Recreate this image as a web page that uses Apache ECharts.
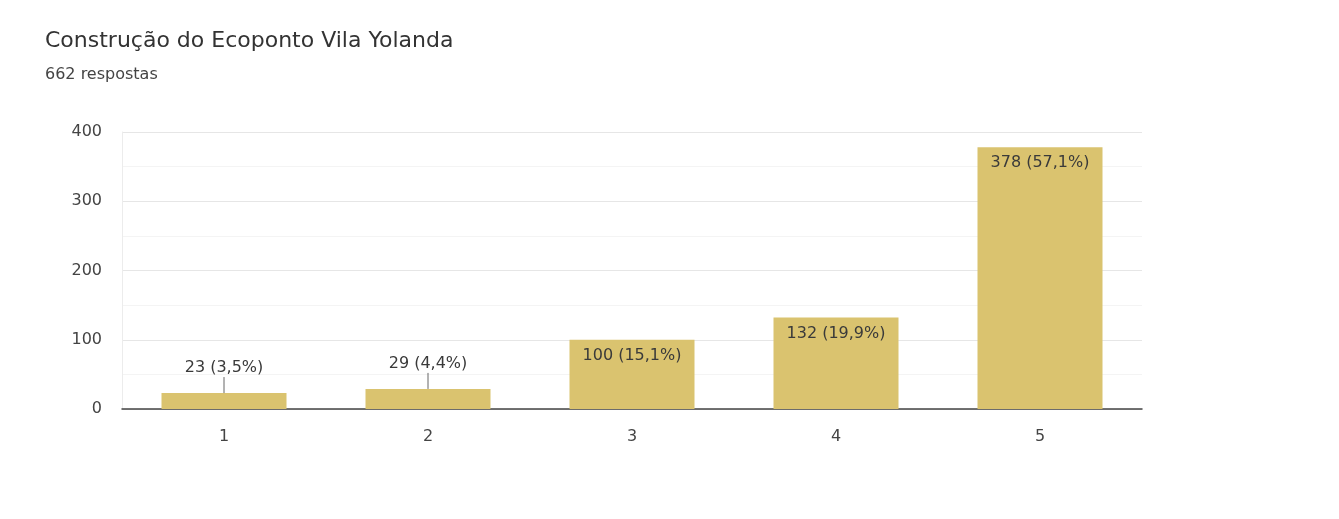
<!DOCTYPE html>
<html><head><meta charset="utf-8">
<script src="https://cdn.jsdelivr.net/npm/echarts@6/dist/echarts.min.js"></script>
<style>html,body{margin:0;padding:0;background:#fff}#c{width:1339px;height:519px}</style>
</head><body><div id="c"></div>
<script>
const title = "Construção do Ecoponto Vila Yolanda";
const subtitle = "662 respostas";
const categories = ["1", "2", "3", "4", "5"];
const counts = [23, 29, 100, 132, 378];
const percents = ["3,5%", "4,4%", "15,1%", "19,9%", "57,1%"];
const yTicks = [0, 100, 200, 300, 400];

const FONT = '"DejaVu Sans", sans-serif';
const smallThreshold = 60;
const chart = echarts.init(document.getElementById('c'));
const barData = counts.map((v, i) => ({
  value: v,
  label: v < smallThreshold
    ? { position: 'top', distance: 17 }
    : { position: 'insideTop', distance: 8 }
}));
chart.setOption({
  animation: false,
  textStyle: { fontFamily: FONT },
  title: [
    { text: title, left: 40, top: 25, textStyle: { fontSize: 22, fontWeight: 'normal', color: '#333', fontFamily: FONT } },
    { text: subtitle, left: 40, top: 62, textStyle: { fontSize: 16, fontWeight: 'normal', color: '#444', fontFamily: FONT } }
  ],
  grid: { left: 122, right: 197, top: 132, bottom: 110 },
  xAxis: {
    type: 'category', data: categories,
    axisLine: { lineStyle: { color: '#444', width: 1.5 } },
    axisTick: { show: false },
    axisLabel: { color: '#444', fontSize: 16, margin: 20, fontFamily: FONT }
  },
  yAxis: {
    type: 'value', min: yTicks[0], max: yTicks[yTicks.length - 1], interval: 100,
    axisLine: { show: true, lineStyle: { color: '#ececec' } },
    axisTick: { show: false },
    axisLabel: { color: '#444', fontSize: 16, margin: 20, fontFamily: FONT },
    splitLine: { lineStyle: { color: '#e6e6e6' } },
    minorTick: { show: false, splitNumber: 2 },
    minorSplitLine: { show: true, lineStyle: { color: '#f4f4f4' } }
  },
  series: [
    {
      type: 'bar', data: barData, barWidth: 125,
      itemStyle: { color: '#dac36f' },
      label: {
        show: true, color: '#3a3a3a', fontSize: 16, fontFamily: FONT,
        formatter: p => counts[p.dataIndex] + ' (' + percents[p.dataIndex] + ')'
      }
    },
    {
      type: 'custom', silent: true, z: 5,
      data: counts.map((v, i) => [i, v]).filter(d => d[1] < smallThreshold),
      renderItem: (params, api) => {
        const p = api.coord([api.value(0), api.value(1)]);
        return { type: 'line', shape: { x1: p[0], y1: p[1], x2: p[0], y2: p[1] - 16 }, style: { stroke: '#666', lineWidth: 1 } };
      }
    }
  ]
});
</script></body></html>
